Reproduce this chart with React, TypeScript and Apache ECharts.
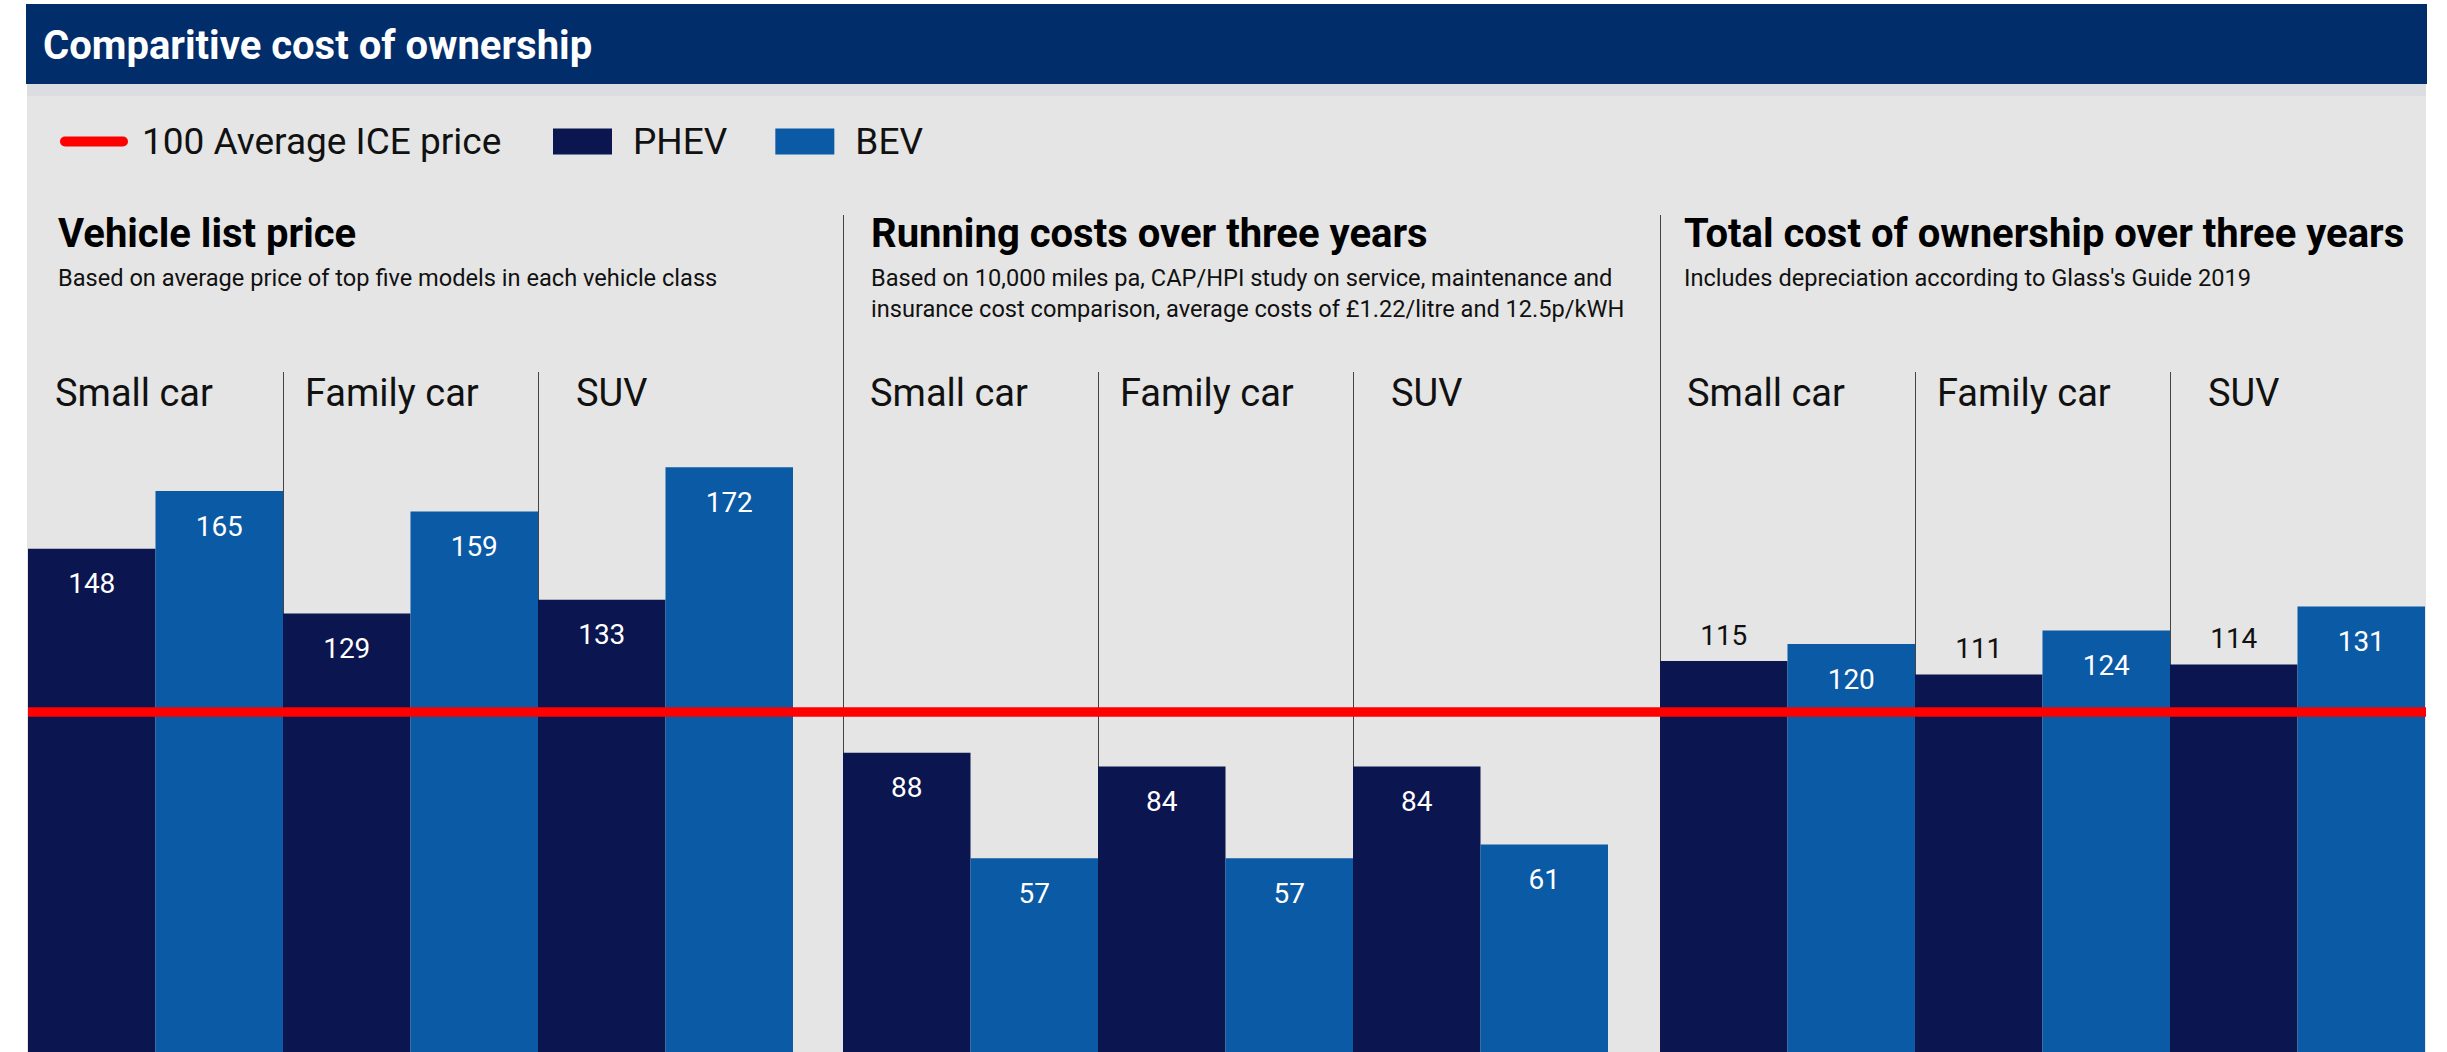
import React, { useEffect, useRef } from 'react';
import * as echarts from 'echarts';

// ---- data ----
const mainTitle = 'Comparitive cost of ownership';
const categories = ['Small car', 'Family car', 'SUV'];
const seriesNames = ['PHEV', 'BEV'];
const iceLabel = '100 Average ICE price';
const iceAverage = 100;

const panelTitles = [
  'Vehicle list price',
  'Running costs over three years',
  'Total cost of ownership over three years',
];
const panelSubtitles = [
  'Based on average price of top five models in each vehicle class',
  'Based on 10,000 miles pa, CAP/HPI study on service, maintenance and\ninsurance cost comparison, average costs of £1.22/litre and 12.5p/kWH',
  "Includes depreciation according to Glass's Guide 2019",
];

const listPricePHEV = [148, 129, 133];
const listPriceBEV = [165, 159, 172];
const runningPHEV = [88, 84, 84];
const runningBEV = [57, 57, 61];
const totalPHEV = [115, 111, 114];
const totalBEV = [120, 124, 131];

const phevByPanel = [listPricePHEV, runningPHEV, totalPHEV];
const bevByPanel = [listPriceBEV, runningBEV, totalBEV];

// ---- style / layout ----
const FONT = 'Roboto, "Noto Sans", sans-serif';
const PHEV_COLOR = '#0b154f';
const BEV_COLOR = '#0a5aa5';
const RED = '#ff0000';
const PANEL_LEFTS = [28, 843, 1660];
const PANEL_WIDTH = 765;
const TITLE_OFFSETS = [30, 28, 24];
const GRID_TOP = 372;
const GRID_HEIGHT = 680;
const Y_MAX = 200;

function buildOption() {
  const grids: any[] = PANEL_LEFTS.map((l) => ({ left: l, top: GRID_TOP, width: PANEL_WIDTH, height: GRID_HEIGHT }));
  grids.push({ left: 28, top: GRID_TOP, width: 2398, height: GRID_HEIGHT });

  const labelRich = {
    c0: { width: 201, align: 'left', fontSize: 38, color: '#111', fontFamily: FONT },
    c1: { width: 211, align: 'left', fontSize: 38, color: '#111', fontFamily: FONT },
    c2: { width: 179, align: 'left', fontSize: 38, color: '#111', fontFamily: FONT },
  };

  const xAxes: any[] = PANEL_LEFTS.map((_, i) => ({
    type: 'category',
    gridIndex: i,
    data: categories,
    position: 'top',
    axisLine: { show: false },
    axisTick: { show: false },
    axisLabel: {
      inside: true,
      margin: 2,
      interval: 0,
      formatter: (v: string, idx: number) => `{c${idx}|${v}}`,
      rich: labelRich,
    },
    splitLine: {
      show: true,
      showMinLine: false,
      showMaxLine: false,
      lineStyle: { color: '#444', width: 1 },
    },
  }));
  xAxes.push({ type: 'category', gridIndex: 3, data: ['', ''], boundaryGap: false, show: false });

  const yAxes: any[] = grids.map((_, i) => ({
    type: 'value',
    gridIndex: i,
    min: 0,
    max: Y_MAX,
    show: false,
  }));

  const baseLabel = {
    show: true,
    position: 'insideTop',
    distance: 21,
    color: '#fff',
    fontSize: 28,
    fontFamily: FONT,
  };

  const toItems = (vals: number[]) =>
    vals.map((v) =>
      v > iceAverage && v < iceAverage + 18
        ? { value: v, label: { position: 'top', color: '#111', distance: 12 } }
        : { value: v }
    );

  const series: any[] = [];
  PANEL_LEFTS.forEach((_, i) => {
    series.push({
      type: 'bar',
      name: seriesNames[0],
      xAxisIndex: i,
      yAxisIndex: i,
      data: toItems(phevByPanel[i]),
      barGap: '0%',
      barCategoryGap: '0%',
      itemStyle: { color: PHEV_COLOR },
      label: baseLabel,
    });
    series.push({
      type: 'bar',
      name: seriesNames[1],
      xAxisIndex: i,
      yAxisIndex: i,
      data: toItems(bevByPanel[i]),
      barGap: '0%',
      barCategoryGap: '0%',
      itemStyle: { color: BEV_COLOR },
      label: baseLabel,
    });
  });
  series.push({
    type: 'line',
    name: iceLabel,
    xAxisIndex: 3,
    yAxisIndex: 3,
    data: [iceAverage, iceAverage],
    symbol: 'none',
    showSymbol: false,
    lineStyle: { color: RED, width: 9.5 },
    itemStyle: { color: RED },
    z: 5,
    silent: true,
  });

  const titles: any[] = [
    {
      text: mainTitle,
      left: 43,
      top: 25,
      padding: 0,
      textStyle: { color: '#fff', fontSize: 40, fontWeight: 'bold', fontFamily: FONT, lineHeight: 40 },
    },
  ];
  PANEL_LEFTS.forEach((l, i) => {
    titles.push({
      text: panelTitles[i],
      subtext: panelSubtitles[i],
      left: l + TITLE_OFFSETS[i],
      top: 213,
      padding: 0,
      itemGap: 9,
      textStyle: { color: '#000', fontSize: 40, fontWeight: 'bold', fontFamily: FONT, lineHeight: 40 },
      subtextStyle: { color: '#111', fontSize: 23.6, fontFamily: FONT, lineHeight: 31 },
    });
  });

  return {
    animation: false,
    textStyle: { fontFamily: FONT },
    title: titles,
    legend: [
      {
        data: [iceLabel],
        left: 60,
        top: 123,
        padding: 0,
        itemWidth: 58,
        itemHeight: 10,
        selectedMode: false,
        lineStyle: { width: 10, cap: 'round', color: RED },
        textStyle: { fontSize: 37, color: '#111', fontFamily: FONT, padding: [0, 0, 0, 14] },
      },
      {
        data: [
          { name: seriesNames[0], icon: 'rect' },
          { name: seriesNames[1], icon: 'rect' },
        ],
        left: 553,
        top: 123,
        padding: 0,
        itemWidth: 59,
        itemHeight: 26,
        itemGap: 48,
        selectedMode: false,
        textStyle: { fontSize: 37, color: '#111', fontFamily: FONT, padding: [0, 0, 0, 16] },
      },
    ],
    grid: grids,
    xAxis: xAxes,
    yAxis: yAxes,
    series,
    graphic: [
      { type: 'rect', z: -10, silent: true, shape: { x: 26, y: 4, width: 2401, height: 80 }, style: { fill: '#022d6b' } },
      { type: 'rect', z: -10, silent: true, shape: { x: 27, y: 84, width: 2399, height: 12 }, style: { fill: '#dcdde0' } },
      { type: 'rect', z: -10, silent: true, shape: { x: 27, y: 96, width: 2399, height: 956 }, style: { fill: '#e5e5e5' } },
      { type: 'line', z: -5, silent: true, shape: { x1: 843.5, y1: 215, x2: 843.5, y2: 1052 }, style: { stroke: '#444', lineWidth: 1 } },
      { type: 'line', z: -5, silent: true, shape: { x1: 1660.5, y1: 215, x2: 1660.5, y2: 1052 }, style: { stroke: '#444', lineWidth: 1 } },
    ],
  };
}

export default function App() {
  const ref = useRef<HTMLDivElement>(null);
  useEffect(() => {
    if (!ref.current) return;
    const chart = echarts.init(ref.current, undefined, { renderer: 'svg' });
    chart.setOption(buildOption() as any);
    return () => chart.dispose();
  }, []);
  return (
    <div
      ref={ref}
      style={{ position: 'absolute', left: 0, top: 0, width: 2447, height: 1052, background: '#fff' }}
    />
  );
}
